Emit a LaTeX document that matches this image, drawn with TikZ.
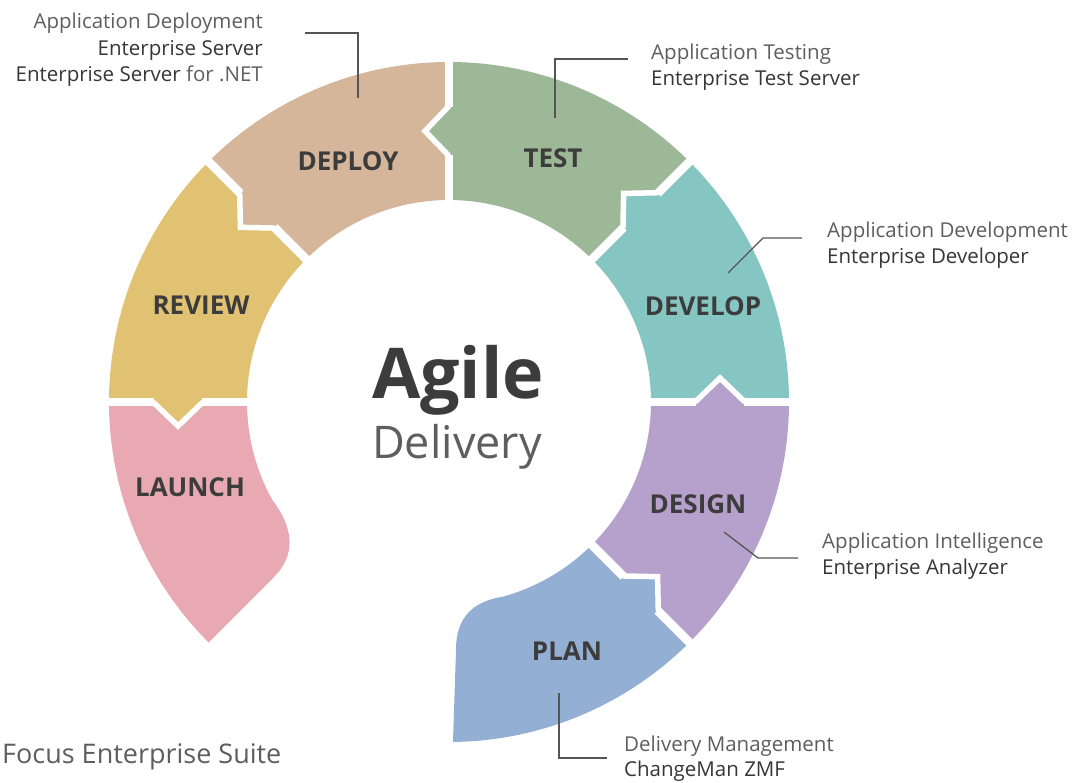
\documentclass[tikz,border=0pt]{standalone}
\usepackage{fontspec}
\setmainfont{Open Sans}
\usetikzlibrary{calc}
\definecolor{cDeploy}{HTML}{D6B69A}
\definecolor{cTest}{HTML}{9CB896}
\definecolor{cDevelop}{HTML}{85C6C2}
\definecolor{cDesign}{HTML}{B5A1CB}
\definecolor{cPlan}{HTML}{94AFD4}
\definecolor{cLaunch}{HTML}{E8A9B3}
\definecolor{cReview}{HTML}{E1C172}
\definecolor{lblgray}{HTML}{3C3C3C}
\definecolor{lightgray2}{HTML}{5E5E5E}
\definecolor{darkgray2}{HTML}{363636}
\definecolor{leadgray}{HTML}{555555}
\newcommand\ringseg[3]{%
  \pgfmathsetmacro\tipa{#2+5.06}\pgfmathsetmacro\tipb{#3+5.06}%
  \fill[#1] (#2:202) -- (#2:247) -- (\tipa:272.06) -- (#2:295) -- (#2:340)
    arc[start angle=#2,end angle=#3,radius=340]
    -- (#3:295) -- (\tipb:272.06) -- (#3:247) -- (#3:202)
    arc[start angle=#3,end angle=#2,radius=202] -- cycle;}
\newcommand\ringgap[1]{%
  \pgfmathsetmacro\tipa{#1+5.06}%
  \draw[white, line width=5.5pt, line join=miter] (#1:246) -- (\tipa:272.06) -- (#1:296);
  \draw[white, line width=8.5pt] (#1:195) -- (#1:247) (#1:295) -- (#1:348);}
\begin{document}
\begin{tikzpicture}[x=1pt,y=-1pt,
  lbl/.style={font=\fontsize{26}{26}\selectfont\bfseries, text=lblgray, inner sep=0},
  lead/.style={draw=leadgray, line width=1.3pt},
  ltxt/.style={font=\fontsize{20.5}{24}\selectfont, text=lightgray2, inner sep=0},
  dtxt/.style={font=\fontsize{20.5}{24}\selectfont, text=darkgray2, inner sep=0}]
\useasboundingbox (0,0) rectangle (1083,782);
\clip (0,0) rectangle (1083,782);
\begin{scope}[shift={(449,402)}, y=1pt]
  \ringseg{cDevelop}{0}{45}
  \ringseg{cTest}{45}{90}
  \ringseg{cDeploy}{90}{135}
  \ringseg{cReview}{135}{180}
  % LAUNCH with rounded tail
  \fill[cLaunch] (180:202) -- (180:247) -- (185.06:272.06) -- (180:295) -- (180:340)
    arc[start angle=180,end angle=225,radius=340] -- (225:248)
    .. controls (-153.7,-153.7) and (-154.1,-127.8) .. (209:202)
    arc[start angle=209,end angle=180,radius=202] -- cycle;
  % DESIGN
  \fill[cDesign] (-45:202) -- (-45:247) -- (-39.94:272.06) -- (-45:295) -- (-45:340)
    arc[start angle=-45,end angle=0,radius=340]
    -- (0:295) -- (5.06:272.06) -- (0:247) -- (0:202)
    arc[start angle=0,end angle=-45,radius=202] -- cycle;
  % PLAN with rounded tail
  \fill[cPlan] (-45:202) -- (-45:247) -- (-39.94:272.06) -- (-45:295) -- (-45:340)
    arc[start angle=-45,end angle=-89.33,radius=340] -- (7,-248)
    .. controls (6.7,-217.3) and (22.3,-199.5) .. (-74.5:202)
    arc[start angle=-74.5,end angle=-45,radius=202] -- cycle;
  \ringgap{0}
  \ringgap{45}
  \ringgap{90}
  \ringgap{135}
  \ringgap{180}
  \ringgap{-45}
\end{scope}
% segment labels
\node[lbl] (ldeploy) at (348,161) {DEPLOY};
\node[lbl] (ltest) at (553,158) {TEST};
\node[lbl] (ldevelop) at (703,306) {DEVELOP};
\node[lbl] (lreview) at (201,305) {REVIEW};
\node[lbl] (ldesign) at (698,504) {DESIGN};
\node[lbl] (llaunch) at (190,487) {LAUNCH};
\node[lbl] (lplan) at (567,651) {PLAN};
% centre
\node[font=\fontsize{70}{70}\selectfont\bfseries, text=lblgray, inner sep=0, anchor=base] (agile) at (458,398) {Agile};
\node[font=\fontsize{45}{45}\selectfont, text=lightgray2, inner sep=0, anchor=base] (delivery) at (457,458) {Delivery};
% leader lines
\coordinate (d1) at (305,33); \coordinate (d2) at (358,33); \coordinate (d3) at (358,98);
\draw[lead] (d1) -- (d2) -- (d3);
\coordinate (t1) at (628,59); \coordinate (t2) at (555,59); \coordinate (t3) at (555,118);
\draw[lead] (t1) -- (t2) -- (t3);
\coordinate (v1) at (802,238); \coordinate (v2) at (763,238); \coordinate (v3) at (728,273);
\draw[lead] (v1) -- (v2) -- (v3);
\coordinate (s1) at (724,532); \coordinate (s2) at (758,558); \coordinate (s3) at (798,558);
\draw[lead] (s1) -- (s2) -- (s3);
\coordinate (p1) at (559,693); \coordinate (p2) at (559,758); \coordinate (p3) at (607,758);
\draw[lead] (p1) -- (p2) -- (p3);
% annotation texts
\node[ltxt, anchor=base east] (a1) at (263,28) {Application Deployment};
\node[dtxt, anchor=base east] (a2) at (263,55) {Enterprise Server};
\node[dtxt, anchor=base east] (a3) at (263,81) {Enterprise Server \textcolor{lightgray2}{for .NET}};
\node[ltxt, anchor=base west] (b1) at (651,59) {Application Testing};
\node[dtxt, anchor=base west] (b2) at (651,85) {Enterprise Test Server};
\node[ltxt, anchor=base west] (c1) at (827,237) {Application Development};
\node[dtxt, anchor=base west] (c2) at (827,263) {Enterprise Developer};
\node[ltxt, anchor=base west] (e1) at (822,548) {Application Intelligence};
\node[dtxt, anchor=base west] (e2) at (822,574) {Enterprise Analyzer};
\node[ltxt, anchor=base west] (f1) at (624,751) {Delivery Management};
\node[dtxt, anchor=base west] (f2) at (624,776) {ChangeMan ZMF};
\node[font=\fontsize{27}{27}\selectfont, text=lightgray2, inner sep=0, anchor=base west] (suite) at (2,763) {Focus Enterprise Suite};
\end{tikzpicture}
\end{document}
